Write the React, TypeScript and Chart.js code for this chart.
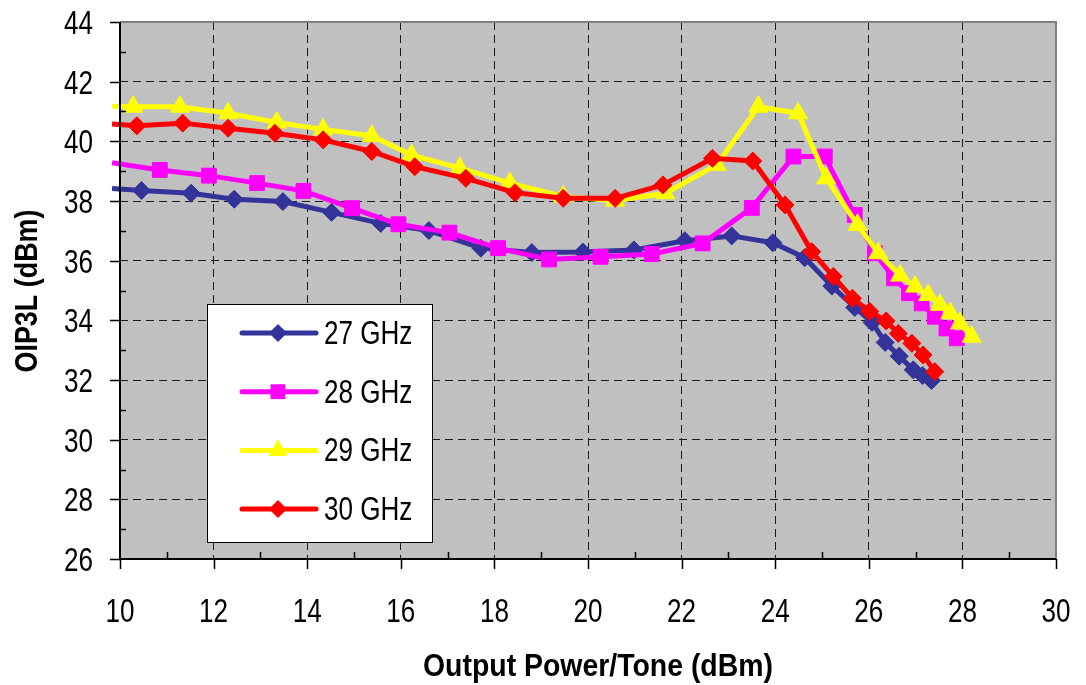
import { useEffect, useRef } from 'react';
import { Chart, registerables } from 'chart.js';

Chart.register(...registerables);

const FONT = "'Liberation Sans', Arial, sans-serif";

const seriesNames = ['27 GHz', '28 GHz', '29 GHz', '30 GHz'];
const seriesColors = ['#333399', '#FF00FF', '#FFFF00', '#FF0000'];
const seriesMarkers = ['rectRot', 'rect', 'triangle', 'rectRot'];
const markerRadius = [9, 10.5, 11, 9];

const xMin = 10;
const xMax = 30;
const yMin = 26;
const yMax = 44;

const x27 = [9.83, 10.46, 11.52, 12.44, 13.48, 14.52, 15.57, 16.6, 17.71, 18.8, 19.89, 20.98, 22.07, 23.07, 23.95, 24.63, 25.21, 25.7, 26.07, 26.35, 26.65, 26.95, 27.15, 27.34];
const y27 = [38.42, 38.35, 38.26, 38.06, 37.98, 37.62, 37.25, 37.01, 36.42, 36.27, 36.29, 36.36, 36.67, 36.83, 36.6, 36.1, 35.15, 34.43, 33.93, 33.26, 32.8, 32.34, 32.15, 31.98];

const x28 = [9.83, 10.85, 11.9, 12.93, 13.92, 14.96, 15.95, 17.04, 18.08, 19.17, 20.27, 21.36, 22.45, 23.5, 24.39, 25.06, 25.7, 26.13, 26.54, 26.86, 27.13, 27.41, 27.66, 27.88];
const y28 = [39.28, 39.04, 38.85, 38.6, 38.34, 37.76, 37.22, 36.94, 36.42, 36.04, 36.13, 36.22, 36.58, 37.77, 39.49, 39.49, 37.53, 36.25, 35.41, 34.91, 34.57, 34.12, 33.73, 33.4];

const x29 = [9.83, 10.28, 11.28, 12.31, 13.35, 14.34, 15.38, 16.23, 17.26, 18.33, 19.47, 20.58, 21.65, 22.75, 23.64, 24.49, 25.09, 25.76, 26.2, 26.67, 26.99, 27.27, 27.52, 27.74, 27.95, 28.2];
const y29 = [41.18, 41.16, 41.16, 40.94, 40.63, 40.4, 40.18, 39.54, 39.1, 38.6, 38.15, 38.01, 38.26, 39.21, 41.16, 40.94, 38.76, 37.2, 36.25, 35.5, 35.13, 34.85, 34.52, 34.24, 33.9, 33.45];

const x30 = [9.83, 10.36, 11.34, 12.31, 13.31, 14.34, 15.38, 16.3, 17.39, 18.44, 19.47, 20.58, 21.6, 22.66, 23.52, 24.21, 24.78, 25.24, 25.65, 26.02, 26.37, 26.63, 26.92, 27.16, 27.41];
const y30 = [40.58, 40.52, 40.61, 40.44, 40.27, 40.05, 39.66, 39.15, 38.76, 38.28, 38.09, 38.09, 38.54, 39.43, 39.34, 37.87, 36.3, 35.47, 34.74, 34.3, 33.98, 33.56, 33.23, 32.84, 32.28];

const xTitle = 'Output Power/Tone (dBm)';
const yTitle = 'OIP3L (dBm)';

const NARROW = 0.79;

function drawText(
  ctx: CanvasRenderingContext2D,
  text: string,
  x: number,
  y: number,
  font: string,
  align: CanvasTextAlign,
  sx: number,
  rot = 0,
  fitWidth = 0,
) {
  ctx.save();
  ctx.font = font;
  ctx.textAlign = align;
  ctx.textBaseline = 'alphabetic';
  ctx.fillStyle = '#000';
  let scaleX = sx;
  if (fitWidth > 0) scaleX = fitWidth / ctx.measureText(text).width;
  ctx.translate(x, y);
  if (rot) ctx.rotate(rot);
  ctx.scale(scaleX, 1);
  ctx.fillText(text, 0, 0);
  ctx.restore();
}

function drawMarker(ctx: CanvasRenderingContext2D, style: string, x: number, y: number, r: number, color: string) {
  ctx.save();
  ctx.fillStyle = color;
  ctx.beginPath();
  if (style === 'rectRot') {
    ctx.moveTo(x, y - r);
    ctx.lineTo(x + r, y);
    ctx.lineTo(x, y + r);
    ctx.lineTo(x - r, y);
  } else if (style === 'rect') {
    const s = r * Math.SQRT1_2;
    ctx.rect(x - s, y - s, 2 * s, 2 * s);
  } else {
    ctx.moveTo(x, y - r);
    ctx.lineTo(x + r * 0.866, y + r * 0.5);
    ctx.lineTo(x - r * 0.866, y + r * 0.5);
  }
  ctx.closePath();
  ctx.fill();
  ctx.restore();
}

const decor = {
  id: 'decor',
  beforeDraw(chart: any) {
    const { ctx, chartArea } = chart;
    ctx.save();
    ctx.fillStyle = '#ffffff';
    ctx.fillRect(0, 0, chart.width, chart.height);
    ctx.fillStyle = '#C0C0C0';
    ctx.fillRect(chartArea.left, chartArea.top, chartArea.right - chartArea.left, chartArea.bottom - chartArea.top);
    ctx.restore();
  },
  afterDraw(chart: any) {
    const { ctx, chartArea } = chart;
    const { left, right, top, bottom } = chartArea;
    const xs = chart.scales.x;
    const ys = chart.scales.y;
    ctx.save();
    // plot border
    ctx.strokeStyle = '#808080';
    ctx.lineWidth = 2;
    ctx.beginPath();
    ctx.moveTo(left, top);
    ctx.lineTo(right, top);
    ctx.lineTo(right, bottom);
    ctx.stroke();
    // axes
    ctx.strokeStyle = '#000';
    ctx.lineWidth = 2;
    ctx.beginPath();
    ctx.moveTo(left, top);
    ctx.lineTo(left, bottom);
    ctx.lineTo(right, bottom);
    ctx.stroke();
    // ticks
    ctx.lineWidth = 1.5;
    ctx.beginPath();
    for (let v = xMin; v <= xMax; v += 1) {
      const px = Math.round(xs.getPixelForValue(v)) + 0.5;
      if (v % 2 === 0) {
        ctx.moveTo(px, bottom);
        ctx.lineTo(px, bottom + 10);
      } else {
        ctx.moveTo(px, bottom);
        ctx.lineTo(px, bottom - 7);
      }
    }
    for (let v = yMin; v <= yMax; v += 1) {
      const py = Math.round(ys.getPixelForValue(v)) + 0.5;
      if (v % 2 === 0) {
        ctx.moveTo(left - 10, py);
        ctx.lineTo(left, py);
      } else {
        ctx.moveTo(left, py);
        ctx.lineTo(left + 6, py);
      }
    }
    ctx.stroke();
    ctx.restore();

    // tick labels (from the library's ticks)
    const tickFont = `33px ${FONT}`;
    xs.ticks.forEach((t: any) => {
      drawText(ctx, String(t.value), xs.getPixelForValue(t.value), bottom + 63, tickFont, 'center', NARROW);
    });
    ys.ticks.forEach((t: any) => {
      drawText(ctx, String(t.value), left - 27, ys.getPixelForValue(t.value) + 12, tickFont, 'right', NARROW);
    });

    // axis titles
    const titleFont = `bold 32px ${FONT}`;
    drawText(ctx, xTitle, (left + right) / 2 + 10, 676, titleFont, 'center', 1, 0, 350);
    drawText(ctx, yTitle, 37, 291, titleFont, 'center', 1, -Math.PI / 2, 163);

    // legend
    ctx.save();
    const bx = 207, by = 304, bw = 225, bh = 238;
    ctx.fillStyle = '#ffffff';
    ctx.fillRect(bx, by, bw, bh);
    ctx.strokeStyle = '#000';
    ctx.lineWidth = 1;
    ctx.strokeRect(bx + 0.5, by + 0.5, bw, bh);
    seriesNames.forEach((name, i) => {
      const ly = 333 + i * 58.7;
      ctx.strokeStyle = seriesColors[i];
      ctx.lineWidth = 5;
      ctx.lineCap = 'round';
      ctx.beginPath();
      ctx.moveTo(242, ly);
      ctx.lineTo(316, ly);
      ctx.stroke();
      drawMarker(ctx, seriesMarkers[i], 278, ly, markerRadius[i], seriesColors[i]);
      drawText(ctx, name, 324, ly + 11, `33px ${FONT}`, 'left', NARROW);
    });
    ctx.restore();
  },
};

export default function App() {
  const ref = useRef<HTMLCanvasElement>(null);
  useEffect(() => {
    document.body.style.margin = '0';
    const canvas = ref.current!;
    const xsArr = [x27, x28, x29, x30];
    const ysArr = [y27, y28, y29, y30];
    const datasets = seriesNames.map((name, i) => ({
      label: name,
      data: xsArr[i].map((x, j) => ({ x, y: ysArr[i][j] })),
      borderColor: seriesColors[i],
      backgroundColor: seriesColors[i],
      pointBackgroundColor: seriesColors[i],
      pointBorderColor: seriesColors[i],
      pointStyle: seriesMarkers[i] as any,
      pointRadius: (c: any) => (c.dataIndex === 0 ? 0 : markerRadius[i]),
      pointBorderWidth: 1,
      borderWidth: 5,
      showLine: true,
      tension: 0,
      clip: false as any,
      order: 4 - i,
    }));
    const gridColor = (edgeA: number, edgeB: number) => (c: any) =>
      c.tick && (c.tick.value === edgeA || c.tick.value === edgeB) ? 'rgba(0,0,0,0)' : '#1a1a1a';
    const chart = new Chart(canvas, {
      type: 'scatter',
      data: { datasets },
      options: {
        animation: false,
        responsive: false,
        events: [],
        layout: { padding: { left: 0, right: 30, top: 22, bottom: 0 } },
        plugins: { legend: { display: false }, tooltip: { enabled: false } },
        scales: {
          x: {
            type: 'linear',
            min: xMin,
            max: xMax,
            afterFit: (s: any) => {
              s.height = 126;
              s.paddingLeft = 0;
              s.paddingRight = 0;
            },
            ticks: { stepSize: 2, display: false, autoSkip: false },
            grid: { color: gridColor(xMin, xMax), lineWidth: 1, drawTicks: false },
            border: { display: false, dash: [8, 5] },
            title: { display: false },
          },
          y: {
            type: 'linear',
            min: yMin,
            max: yMax,
            afterFit: (s: any) => {
              s.width = 120;
              s.paddingTop = 0;
              s.paddingBottom = 0;
            },
            ticks: { stepSize: 2, display: false, autoSkip: false },
            grid: { color: gridColor(yMin, yMax), lineWidth: 1, drawTicks: false },
            border: { display: false, dash: [8, 5] },
            title: { display: false },
          },
        },
      } as any,
      plugins: [decor],
    });
    return () => chart.destroy();
  }, []);
  return (
    <div style={{ position: 'absolute', left: 0, top: 0, width: 1086, height: 685, background: '#fff' }}>
      <canvas ref={ref} width={1086} height={685} style={{ width: 1086, height: 685, display: 'block' }} />
    </div>
  );
}
